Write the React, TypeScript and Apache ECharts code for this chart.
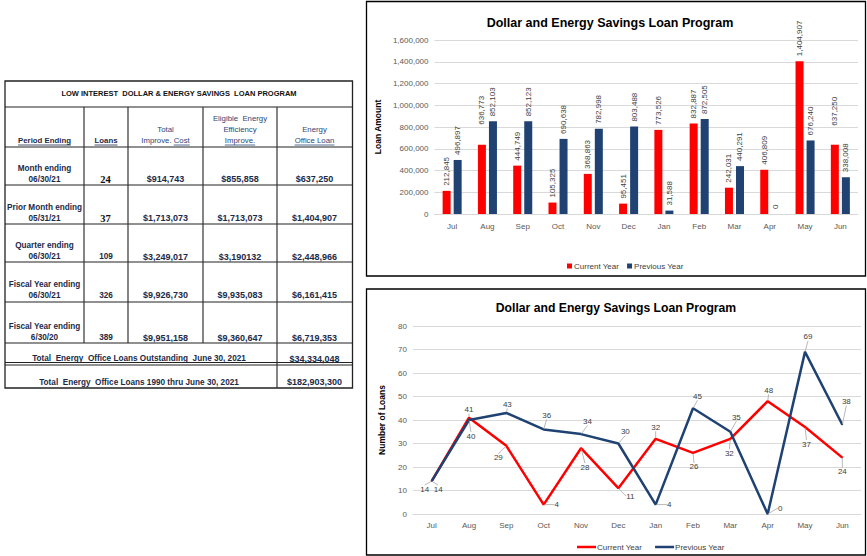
import React, { useEffect, useRef } from 'react';
import * as echarts from 'echarts';

// ---------- data ----------
const months = ['Jul', 'Aug', 'Sep', 'Oct', 'Nov', 'Dec', 'Jan', 'Feb', 'Mar', 'Apr', 'May', 'Jun'];
const seriesNames = ['Current Year', 'Previous Year'];
const amountCurrent = [212845, 636773, 444749, 105325, 368863, 95451, 773526, 832887, 242031, 406809, 1404907, 637250];
const amountPrevious = [496897, 852103, 852123, 690638, 782998, 803488, 31588, 872505, 440291, 0, 676240, 338008];
const loansCurrent = [14, 41, 29, 4, 28, 11, 32, 26, 32, 48, 37, 24];
const loansPrevious = [14, 40, 43, 36, 34, 30, 4, 45, 35, 0, 69, 38];
const chartTitle = 'Dollar and Energy Savings Loan Program';
const amountAxisName = 'Loan Amount';
const loansAxisName = 'Number of Loans';

const tableTitle = 'LOW INTEREST  DOLLAR & ENERGY SAVINGS  LOAN PROGRAM';
const periodLabels = [
  ['Month ending', '06/30/21'],
  ['Prior Month ending', '05/31/21'],
  ['Quarter ending', '06/30/21'],
  ['Fiscal Year ending', '06/30/21'],
  ['Fiscal Year ending', '6/30/20'],
];
const periodLoans = ['24', '37', '109', '326', '389'];
const periodCost = ['$914,743', '$1,713,073', '$3,249,017', '$9,926,730', '$9,951,158'];
const periodEligible = ['$855,858', '$1,713,073', '$3,190132', '$9,935,083', '$9,360,647'];
const periodLoanAmt = ['$637,250', '$1,404,907', '$2,448,966', '$6,161,415', '$6,719,353'];
const totalLabels = [
  'Total  Energy  Office Loans Outstanding  June 30, 2021',
  'Total  Energy  Office Loans 1990 thru June 30, 2021',
];
const totalValues = ['$34,334,048', '$182,903,300'];

// ---------- label placement (styling, not data) ----------
const curLabelOffsets = [[-7, 8], [0, -8], [-8, 12], [13, 0], [4, 19], [12, 8], [0, -11.5], [1, 14], [-1, 14.5], [1, -11], [1.5, 17], [0, 14]];
const prevLabelOffsets = [[6.5, 8], [2, 16], [1, -8.5], [3, -14], [6.5, -12.5], [7, -12], [13.5, 0], [4.5, -12], [6, -14.5], [12.5, -6], [3, -15], [4, -23]];
const barCurLift = [0, 15, 0, 0, 0, 0, 0, 0, 0, 0, 0, 14];

const FONT = '"Liberation Sans", Arial, sans-serif';
const RED = '#FF0000';
const NAVY = '#1F4273';
const NAVY_TXT = '#1c2a48';
const HDR_TXT = '#2d4677';

function measure(text: string, size: number, weight: string, family = FONT) {
  const c = document.createElement('canvas');
  const ctx = c.getContext('2d');
  if (!ctx) return text.length * size * 0.55;
  ctx.font = `${weight} ${size}px ${family}`;
  return ctx.measureText(text).width;
}

function txt(x: number, y: number, text: string, size: number, weight: string, fill: string, family = FONT) {
  return {
    type: 'text',
    x,
    y,
    silent: true,
    style: { text, fontSize: size, fontWeight: weight, fontFamily: family, fill, align: 'center', verticalAlign: 'middle' },
  };
}

function uline(cx: number, y: number, text: string, size: number, weight: string, color: string) {
  const w = measure(text, size, weight);
  return {
    type: 'line',
    silent: true,
    shape: { x1: cx - w / 2, y1: y, x2: cx + w / 2, y2: y },
    style: { stroke: color, lineWidth: 0.8 },
  };
}

function hline(x1: number, x2: number, y: number, w = 1.2, c = '#222') {
  return { type: 'line', silent: true, shape: { x1, y1: y, x2, y2: y }, style: { stroke: c, lineWidth: w } };
}
function vline(x: number, y1: number, y2: number, w = 1.2, c = '#333') {
  return { type: 'line', silent: true, shape: { x1: x, y1, x2: x, y2 }, style: { stroke: c, lineWidth: w } };
}

function tableOption() {
  const L = 5, R = 352.5, T = 81, B = 388;
  const rowBottoms = [107, 147, 185, 224, 262, 302, 343];
  const cols = [84, 128, 203];
  const els: any[] = [];
  els.push({ type: 'rect', silent: true, shape: { x: L, y: T, width: R - L, height: B - T }, style: { fill: 'none', stroke: '#222', lineWidth: 1.3 } });
  rowBottoms.forEach((y) => els.push(hline(L, R, y)));
  els.push(hline(L, R, 362.5, 1));
  els.push(hline(L, R, 365, 1));
  cols.forEach((x) => els.push(vline(x, 107, 343)));
  els.push(vline(277, 107, B));

  // title
  els.push(txt(179, 93, tableTitle, 7.5, 'bold', '#111'));

  // header
  const hb = 7.8;
  els.push(txt(44.5, 140.5, 'Period Ending', hb, 'bold', NAVY_TXT));
  els.push(uline(44.5, 145, 'Period Ending', hb, 'bold', NAVY_TXT));
  els.push(txt(106, 140.5, 'Loans', hb, 'bold', NAVY_TXT));
  els.push(uline(106, 145, 'Loans', hb, 'bold', NAVY_TXT));
  const hn = 7.8;
  els.push(txt(165.5, 129, 'Total', hn, 'normal', HDR_TXT));
  els.push(txt(165.5, 140.5, 'Improve. Cost', hn, 'normal', HDR_TXT));
  {
    const full = measure('Improve. Cost', hn, 'normal');
    const cw = measure('Cost', hn, 'normal');
    const right = 165.5 + full / 2;
    els.push({ type: 'line', silent: true, shape: { x1: right - cw, y1: 145, x2: right, y2: 145 }, style: { stroke: HDR_TXT, lineWidth: 0.8 } });
  }
  els.push(txt(240, 118, 'Eligible  Energy', hn, 'normal', HDR_TXT));
  els.push(txt(240, 129, 'Efficiency', hn, 'normal', HDR_TXT));
  els.push(txt(240, 140.5, 'Improve.', hn, 'normal', HDR_TXT));
  els.push(uline(240, 145, 'Improve.', hn, 'normal', HDR_TXT));
  els.push(txt(314.5, 129, 'Energy', hn, 'normal', HDR_TXT));
  els.push(txt(314.5, 140.5, 'Office Loan', hn, 'normal', HDR_TXT));
  els.push(uline(314.5, 145, 'Office Loan', hn, 'normal', HDR_TXT));

  // rows
  const vs = 9;
  const lineYs = [[168, 179], [207, 218], [245, 256.5], [284, 295], [326.5, 337.5]];
  periodLabels.forEach((lbl, i) => {
    const [y1, y2] = lineYs[i];
    els.push(txt(44.5, y1, lbl[0], 8.2, 'bold', NAVY_TXT));
    els.push(txt(44.5, y2, lbl[1], 8.2, 'bold', NAVY_TXT));
    if (i < 2) els.push(txt(105.5, y2, periodLoans[i], 10.5, 'bold', '#111', '"Liberation Serif", serif'));
    else els.push(txt(106, y2, periodLoans[i], 8.2, 'bold', NAVY_TXT));
    els.push(txt(165.5, y2, periodCost[i], vs, 'bold', NAVY_TXT));
    els.push(txt(240, y2, periodEligible[i], vs, 'bold', NAVY_TXT));
    els.push(txt(314.5, y2, periodLoanAmt[i], vs, 'bold', NAVY_TXT));
  });
  els.push(txt(139, 358, totalLabels[0], 8.2, 'bold', NAVY_TXT));
  els.push(txt(314.5, 358.5, totalValues[0], vs, 'bold', NAVY_TXT));
  els.push(txt(139, 382, totalLabels[1], 8.2, 'bold', NAVY_TXT));
  els.push(txt(314.5, 382, totalValues[1], vs, 'bold', NAVY_TXT));

  return { animation: false, graphic: els };
}

function barOption() {
  const baseLabel = {
    show: true,
    position: 'top',
    rotate: 90,
    align: 'left',
    verticalAlign: 'middle',
    distance: 5,
    fontSize: 8,
    fontFamily: FONT,
    color: '#404040',
    formatter: (p: any) => Number(p.value).toLocaleString('en-US'),
  };
  const curData = amountCurrent.map((v, i) =>
    barCurLift[i] ? { value: v, label: { distance: 5 + barCurLift[i] } } : v
  );
  return {
    animation: false,
    textStyle: { fontFamily: FONT },
    graphic: [
      { type: 'rect', silent: true, shape: { x: 1.5, y: 1.5, width: 499, height: 274.5 }, style: { fill: 'none', stroke: '#000', lineWidth: 1.3 } },
      { type: 'text', silent: true, x: 245, y: 23, style: { text: chartTitle, fontSize: 12.5, fontWeight: 'bold', fontFamily: FONT, fill: '#000', align: 'center', verticalAlign: 'middle' } },
    ],
    grid: { left: 63, top: 40, width: 430, height: 174 },
    legend: {
      data: seriesNames,
      top: 257,
      left: 197,
      icon: 'rect',
      itemWidth: 5,
      itemHeight: 5,
      itemGap: 8,
      itemStyle: {},
      textStyle: { fontSize: 8, color: '#404040', fontFamily: FONT, padding: [0, 0, 0, -3] },
    },
    xAxis: {
      type: 'category',
      data: months,
      axisLine: { lineStyle: { color: '#d9d9d9' } },
      axisTick: { show: false },
      axisLabel: { color: '#595959', fontSize: 8, margin: 8 },
    },
    yAxis: {
      type: 'value',
      min: 0,
      max: 1600000,
      interval: 200000,
      name: amountAxisName,
      nameLocation: 'middle',
      nameRotate: 90,
      nameGap: 44,
      nameTextStyle: { fontWeight: 'bold', fontSize: 8.5, color: '#000' },
      axisLabel: { color: '#595959', fontSize: 8, margin: 6, formatter: (v: number) => v.toLocaleString('en-US') },
      splitLine: { lineStyle: { color: '#d9d9d9' } },
      axisLine: { show: false },
      axisTick: { show: false },
    },
    series: [
      {
        name: seriesNames[0],
        type: 'bar',
        data: curData,
        barWidth: 8,
        barGap: '38%',
        itemStyle: { color: RED },
        label: baseLabel,
      },
      {
        name: seriesNames[1],
        type: 'bar',
        data: amountPrevious,
        barWidth: 8,
        barGap: '38%',
        itemStyle: { color: NAVY },
        label: baseLabel,
      },
    ],
  };
}

function lineOption() {
  const mkLayout = (offs: number[][]) => (p: any) => {
    const r = p.rect;
    const o = offs[p.dataIndex];
    return { x: r.x + r.width / 2 + o[0], y: r.y + r.height / 2 + o[1], align: 'center', verticalAlign: 'middle' };
  };
  const labelCfg = { show: true, fontSize: 8, fontFamily: FONT, color: '#404040' };
  const lineCfg = { show: true, lineStyle: { color: '#a6a6a6', width: 0.8 } };
  return {
    animation: false,
    textStyle: { fontFamily: FONT },
    graphic: [
      { type: 'rect', silent: true, shape: { x: 1.5, y: 2, width: 499, height: 266 }, style: { fill: 'none', stroke: '#000', lineWidth: 1.3 } },
      { type: 'text', silent: true, x: 251, y: 21, style: { text: chartTitle, fontSize: 12.2, fontWeight: 'bold', fontFamily: FONT, fill: '#000', align: 'center', verticalAlign: 'middle' } },
    ],
    grid: { left: 48, top: 39, width: 448, height: 188 },
    legend: {
      data: seriesNames,
      top: 251,
      left: 207,
      icon: 'rect',
      itemWidth: 19,
      itemHeight: 2.5,
      itemGap: 13,
      textStyle: { fontSize: 8, color: '#404040', fontFamily: FONT, padding: [0, 0, 0, -4] },
    },
    xAxis: {
      type: 'category',
      data: months,
      axisLine: { lineStyle: { color: '#d9d9d9' } },
      axisTick: { show: false },
      axisLabel: { color: '#595959', fontSize: 8, margin: 7 },
    },
    yAxis: {
      type: 'value',
      min: 0,
      max: 80,
      interval: 10,
      name: loansAxisName,
      nameLocation: 'middle',
      nameRotate: 90,
      nameGap: 27,
      nameTextStyle: { fontWeight: 'bold', fontSize: 8.5, color: '#000' },
      axisLabel: { color: '#595959', fontSize: 8, margin: 6 },
      splitLine: { lineStyle: { color: '#d9d9d9' } },
      axisLine: { show: false },
      axisTick: { show: false },
    },
    series: [
      {
        name: seriesNames[0],
        type: 'line',
        data: loansCurrent,
        symbol: 'circle',
        symbolSize: 1,
        showSymbol: true,
        lineStyle: { color: RED, width: 2.5 },
        itemStyle: { color: RED },
        label: labelCfg,
        labelLayout: mkLayout(curLabelOffsets),
        labelLine: lineCfg,
      },
      {
        name: seriesNames[1],
        type: 'line',
        data: loansPrevious,
        symbol: 'circle',
        symbolSize: 1,
        showSymbol: true,
        lineStyle: { color: NAVY, width: 2.5 },
        itemStyle: { color: NAVY },
        label: labelCfg,
        labelLayout: mkLayout(prevLabelOffsets),
        labelLine: lineCfg,
      },
    ],
  };
}

function Chart({ style, make }: { style: React.CSSProperties; make: () => any }) {
  const ref = useRef<HTMLDivElement>(null);
  useEffect(() => {
    if (!ref.current) return;
    const chart = echarts.init(ref.current, undefined, { renderer: 'svg' });
    chart.setOption(make());
    return () => chart.dispose();
  }, [make]);
  return <div ref={ref} style={{ position: 'absolute', ...style }} />;
}

export default function App() {
  return (
    <div style={{ position: 'fixed', left: 0, top: 0, width: 867, height: 556, background: '#fff', overflow: 'hidden' }}>
      <Chart style={{ left: 0, top: 0, width: 362, height: 400 }} make={tableOption} />
      <Chart style={{ left: 365, top: 0, width: 502, height: 278 }} make={barOption} />
      <Chart style={{ left: 365, top: 287, width: 502, height: 269 }} make={lineOption} />
    </div>
  );
}
